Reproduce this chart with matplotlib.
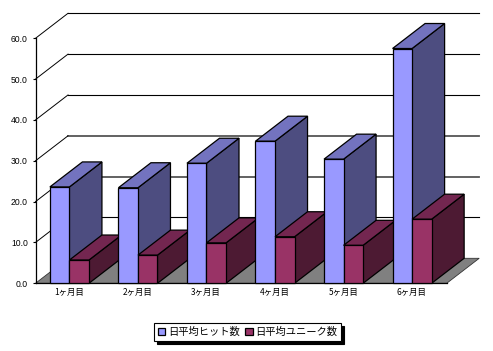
import matplotlib
matplotlib.use("Agg")
from matplotlib import pyplot as plt

plt.rcParams['font.family'] = ['Noto Sans CJK JP', 'DejaVu Sans']

months = ["1ヶ月目", "2ヶ月目", "3ヶ月目", "4ヶ月目", "5ヶ月目", "6ヶ月目"]
hits = [23.6, 23.4, 29.4, 34.8, 30.4, 57.5]
uniques = [5.7, 6.9, 9.9, 11.4, 9.3, 15.7]
y_ticks = [0, 10, 20, 30, 40, 50, 60]
series_names = ["日平均ヒット数", "日平均ユニーク数"]

W, H = 493, 351
DX = 32.5 / 68.5   # depth of the fake 3d, in category units
DY = 25 / 4.083    # same, in value units
BAR_W = 0.285
BAR_OFF = 0.21

fig = plt.figure(figsize=(W / 100, H / 100), dpi=100)
ax = fig.add_axes([35.5 / W, 1 - 283.3 / H, 411.2 / W, 245 / H])
ax.set_xlim(0, 6)
ax.set_ylim(0, 60)

for s in ['top', 'right']:
    ax.spines[s].set_visible(False)
ax.spines['left'].set_linewidth(0.9)
ax.spines['bottom'].set_linewidth(0.9)


def draw_gridlines():
    for v in y_ticks[1:]:
        color, lw = 'black', 0.8
        if v in (20, 30):
            color, lw = '#555555', 1.3
        ax.plot([DX, 6 + DX], [v + DY, v + DY], color=color, lw=lw, zorder=0.5, clip_on=False)
        ax.plot([0, DX], [v, v + DY], color='black', lw=0.7, zorder=0.5, clip_on=False)


def draw_floor():
    ax.fill([0, 6, 6 + DX, DX], [0, 0, DY, DY], facecolor='#808080',
            edgecolor='#333333', lw=0.6, zorder=0.8, clip_on=False)


def draw_bar(x, value, front, side, top, z):
    bar = ax.bar(x, value, BAR_W, align='edge', color=front, edgecolor='black',
                 lw=0.9, zorder=z + 0.2, clip_on=False)
    x2 = x + BAR_W
    ax.fill([x2, x2 + DX, x2 + DX, x2], [0, DY, value + DY, value], facecolor=side,
            edgecolor='black', lw=0.9, zorder=z, clip_on=False)
    ax.fill([x, x2, x2 + DX, x + DX], [value, value, value + DY, value + DY], facecolor=top,
            edgecolor='black', lw=0.9, zorder=z + 0.1, clip_on=False)
    return bar


draw_gridlines()
draw_floor()

z = 3
for i in range(len(months)):
    h1 = draw_bar(i + BAR_OFF, hits[i], '#9999ff', '#4d4d80', '#7373bf', z)
    h2 = draw_bar(i + BAR_OFF + BAR_W, uniques[i], '#993366', '#4d1a33', '#732650', z + 1)
    z += 2

ax.set_yticks(y_ticks)
ax.set_yticklabels(["%.1f" % v for v in y_ticks], family='Liberation Sans', fontsize=6.2)
ax.set_xticks([i + 0.49 for i in range(6)])
ax.set_xticklabels(months, fontsize=6)
ax.tick_params(axis='y', length=2.5, width=0.8, pad=3)
ax.tick_params(axis='x', length=0, pad=3.5)

leg = fig.legend([h1, h2], series_names, loc='center', ncol=2,
                 bbox_to_anchor=(247.5 / W, 1 - 332 / H), fontsize=7.4,
                 fancybox=False, edgecolor='black', framealpha=1,
                 shadow={'ox': 2.2, 'oy': -2.2, 'facecolor': 'black', 'edgecolor': 'black', 'alpha': 1},
                 handlelength=0.75, handleheight=0.75, handletextpad=0.25,
                 columnspacing=0.5, borderpad=0.35)
leg.get_frame().set_linewidth(0.8)

fig.savefig("out.png", dpi=100)
